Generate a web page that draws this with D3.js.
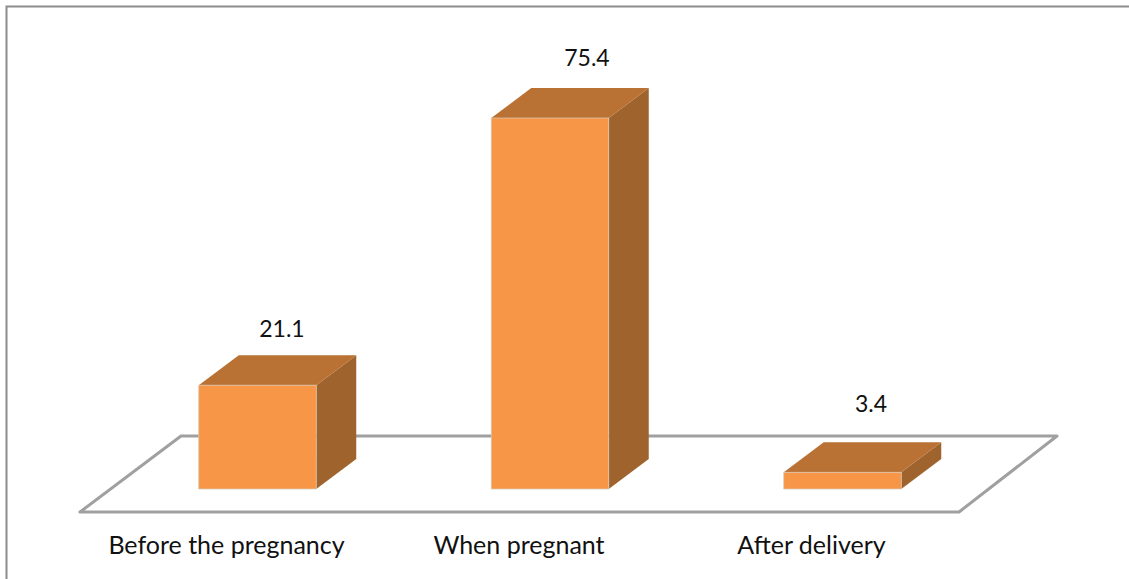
<!DOCTYPE html>
<html lang="en">
    <head>
        <meta charset="utf-8">
        <title>3D bar chart</title>
        <script src="https://cdn.jsdelivr.net/npm/d3@7"></script>
        <style>
            html, body { margin: 0; padding: 0; background: white; }
            svg { display: block; }
            text { font-family: Lato, sans-serif; font-size: 25px; fill: #111; }
            text.value { font-size: 23px; }
        </style>
    </head>
    <body>
        <script>
            // values
            var categories = ["Before the pregnancy", "When pregnant", "After delivery"];
            var values = [21.1, 75.4, 3.4];

            var w = 1129;
            var h = 579;

            // front face baseline and the depth offset of the bars
            var baseY = 489;
            var depthX = 40;
            var depthY = -30;
            var barWidth = 117.5;

            // the value labels sit by hand in the original, so each has its own shift
            var labelDx = [24.5, 37, 28.5];
            var labelDy = [-48, -52, -60];

            var svg = d3.select("body").append("svg").attr("width", w).attr("height", h);

            // chart frame, right and bottom edges run off the picture
            svg.append("rect")
                .attr("x", 6.5)
                .attr("y", 6.5)
                .attr("width", 1200)
                .attr("height", 1200)
                .attr("fill", "white")
                .attr("stroke", "#8c8c8c")
                .attr("stroke-width", 2);

            var xScale = d3.scalePoint().domain(categories).range([257.5, 842.5]);

            var yScale = d3.scaleLinear()
                .domain([0, 75.4])
                .range([baseY, 118]);

            // floor of the chart
            var floor = [[80, 512], [959, 512], [1057, 436], [181, 436]];
            svg.append("polygon")
                .attr("points", floor.join(" "))
                .attr("fill", "white")
                .attr("stroke", "#a0a0a0")
                .attr("stroke-width", 3)
                .attr("stroke-linejoin", "round");

            var bars = svg.selectAll("g.bar")
                .data(values)
                .enter()
                .append("g")
                .attr("class", "bar");

            function left(d, i) { return xScale(categories[i]) - barWidth / 2; }

            // side
            bars.append("polygon")
                .attr("points", function(d, i) {
                    var r = left(d, i) + barWidth, t = yScale(d);
                    return [[r, t], [r + depthX, t + depthY], [r + depthX, baseY + depthY], [r, baseY]].join(" ");
                })
                .attr("fill", "#9f642e");

            // top
            bars.append("polygon")
                .attr("points", function(d, i) {
                    var l = left(d, i), t = yScale(d);
                    return [[l, t], [l + barWidth, t], [l + barWidth + depthX, t + depthY], [l + depthX, t + depthY]].join(" ");
                })
                .attr("fill", "#b97233");

            // front
            bars.append("rect")
                .attr("x", function(d, i) { return left(d, i); })
                .attr("y", function(d) { return yScale(d); })
                .attr("width", barWidth)
                .attr("height", function(d) { return baseY - yScale(d); })
                .attr("fill", "#f79646")
                .attr("stroke", "#d8c8b8")
                .attr("stroke-width", 0.75);

            // value labels
            svg.selectAll("text.value")
                .data(values)
                .enter()
                .append("text")
                .attr("class", "value")
                .attr("x", function(d, i) { return xScale(categories[i]) + labelDx[i]; })
                .attr("y", function(d, i) { return yScale(d) + labelDy[i]; })
                .attr("text-anchor", "middle")
                .text(function(d) { return d; });

            // category labels
            svg.selectAll("text.cat")
                .data(categories)
                .enter()
                .append("text")
                .attr("class", "cat")
                .attr("x", function(d) { return xScale(d) - 31; })
                .attr("y", 554)
                .attr("text-anchor", "middle")
                .text(function(d) { return d; });
        </script>
    </body>
</html>
